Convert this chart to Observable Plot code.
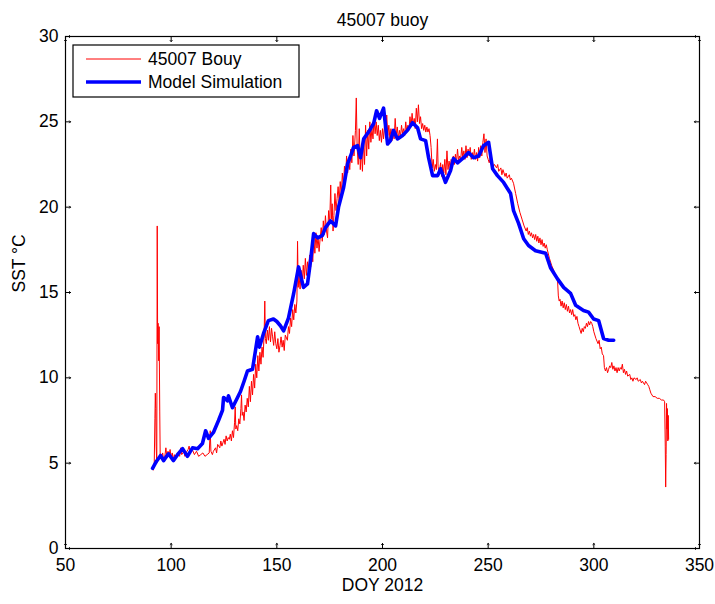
<!DOCTYPE html>
<html>
<head>
<meta charset="utf-8">
<script src="https://cdn.jsdelivr.net/npm/d3@7"></script>
<script src="https://cdn.jsdelivr.net/npm/@observablehq/plot@0.6"></script>
<style>
  html, body { margin: 0; padding: 0; background: #fff; }
  #chart { position: relative; width: 715px; height: 604px; }
</style>
</head>
<body>
<div id="chart"></div>
<script>
// ---- data ----
const titleText = "45007 buoy";
const xLabel = "DOY 2012";
const yLabel = "SST °C";
const seriesNames = ["45007 Bouy", "Model Simulation"];
const xTicks = [50, 100, 150, 200, 250, 300, 350];
const yTicks = [0, 5, 10, 15, 20, 25, 30];

// buoy observations [day of year, SST °C]
const buoy = [
[91.6,4.6],[92.0,5.0],[92.3,7.6],[92.5,9.1],[92.7,8.2],[92.9,6.0],[93.2,5.0],[93.4,18.9],[93.6,12.0],[93.8,13.2],
[94.1,11.0],[94.3,13.0],[94.6,8.0],[94.8,5.5],[95.3,5.3],[96,5.6],[96.5,5.1],[97,5.4],[97.5,5.9],[98,5.3],
[98.5,5.7],[99,5.4],[99.5,5.8],[100,5.3],[100.5,5.6],[101,5.2],[101.5,5.5],[102,5.3],[103,5.6],[104,5.4],
[104.5,5.9],[105,5.5],[106,5.7],[106.5,5.4],[107,5.6],[108,5.8],[108.5,6.0],[109,5.6],[110,5.8],[111,5.5],
[112,5.7],[113,5.4],[114,5.5],[115,5.6],[116,5.4],[117,5.5],[118,5.6],[118.5,6.9],[118.8,5.7],[119.5,5.5],
[120,5.7],[121,5.9],[121.5,5.6],[122,6.1],[123,5.9],[123.5,6.3],[124,6.0],[125,6.4],[125.5,6.1],[126,6.6],
[126.5,6.3],[127,6.5],[127.5,6.4],[128,6.7],[128.5,6.3],[129,6.9],[129.5,6.5],[130,7.4],[130.3,8.3],[130.6,7.0],
[131,7.2],[131.5,6.9],[132,7.6],[132.5,7.3],[133,8.2],[133.3,9.0],[133.6,7.8],[134,8.0],[134.5,7.5],[135,8.4],
[135.5,8.0],[136,8.8],[136.5,8.3],[137,9.5],[137.5,8.6],[138,9.8],[138.5,9.0],[139,10.2],[139.5,9.4],[140,10.8],
[140.5,10.0],[141,11.3],[141.5,10.4],[142,11.5],[142.5,10.8],[143,11.8],[143.5,11.2],[144,12.6],[144.3,14.5],[144.6,12.3],
[145,12.0],[145.5,12.8],[146,12.2],[146.5,13.0],[147,12.1],[147.5,12.9],[148,12.4],[148.5,11.9],[149,12.7],[149.5,12.0],
[150,11.7],[150.5,12.3],[151,11.5],[151.5,11.9],[152,12.4],[152.5,11.8],[153,12.2],[153.5,11.6],[154,12.5],[155,12.2],
[155.5,13.0],[156,12.6],[156.5,13.5],[157,13.0],[157.5,14.0],[158,13.4],[158.5,14.3],[159,13.8],[159.5,14.5],[159.8,18.0],
[160.1,15.3],[160.5,16.0],[161,15.2],[161.5,16.3],[162,15.5],[162.5,16.6],[163,15.8],[163.5,17.0],[164,16.0],[164.5,16.8],
[165,16.2],[165.5,17.2],[166,16.5],[166.5,17.6],[167,16.8],[167.5,18.2],[168,17.3],[168.5,18.5],[169,17.6],[169.5,18.3],
[170,17.4],[170.5,18.2],[171,18.8],[171.5,18.0],[172,19.2],[172.5,18.4],[173,19.5],[173.5,18.6],[174,18.2],[174.5,19.8],
[175,19.0],[175.5,21.3],[175.8,19.3],[176.2,20.2],[176.6,18.6],[177,19.5],[177.5,20.8],[178,19.8],[178.5,20.5],[179,21.2],
[179.5,20.3],[180,21.5],[180.5,20.7],[181,22.0],[181.5,21.2],[182,22.4],[182.5,21.6],[183,23.0],[183.5,22.0],[184,22.8],
[184.5,22.2],[185,23.4],[185.5,22.6],[186,24.2],[186.5,23.0],[187.2,24.5],[187.6,26.4],[188,23.5],[188.5,22.5],[189,24.6],
[189.5,22.2],[190,23.5],[190.5,22.1],[191,24.0],[191.5,22.5],[192,24.8],[192.5,23.0],[193,24.5],[193.5,23.4],[194,25.0],
[194.5,23.8],[195,24.6],[195.5,24.0],[196,25.2],[196.5,24.3],[197,25.0],[197.5,24.2],[198,24.8],[198.5,23.9],[199,24.5],
[199.5,23.8],[200,24.6],[200.5,24.0],[201,24.9],[201.5,24.2],[202,25.4],[202.5,24.2],[203,24.8],[203.5,24.0],[204,24.6],
[204.5,23.9],[205,24.4],[205.5,24.0],[206,25.2],[206.5,24.2],[207,24.7],[207.5,24.0],[208,24.5],[208.5,24.1],[209,24.8],
[209.5,24.3],[210,24.6],[210.5,24.2],[211,25.0],[211.5,24.4],[212,24.8],[212.5,24.5],[213,25.3],[213.5,24.7],[214,25.5],
[214.5,24.8],[215,25.2],[215.5,24.6],[216,25.8],[216.5,25.0],[217,26.0],[217.5,24.9],[218,25.3],[218.5,24.6],[219,24.9],
[219.5,24.5],[220,24.8],[220.5,24.4],[221,24.7],[221.5,24.4],[222,24.6],[222.5,24.2],[223,23.5],[223.5,22.3],[224,22.8],
[224.5,22.1],[225,22.5],[225.5,22.2],[226,24.0],[226.3,22.4],[226.8,22.0],[227.5,22.6],[228,21.8],[228.5,22.5],[229,22.0],
[229.5,22.8],[230,21.9],[230.5,23.3],[231,22.2],[231.5,22.7],[232,22.3],[232.5,22.8],[233,22.4],[233.5,23.0],[234,22.5],
[234.5,23.1],[235,22.6],[235.5,23.4],[236,22.7],[236.5,23.0],[237,22.8],[237.5,23.5],[238,22.9],[238.5,23.3],[239,22.8],
[239.5,23.6],[240,22.9],[240.5,23.4],[241,23.0],[241.5,23.5],[242,22.8],[242.5,23.2],[243,22.9],[243.5,23.4],[244,22.8],
[244.5,23.2],[245,22.7],[245.5,23.5],[246,22.9],[246.5,23.6],[247,23.0],[247.5,23.8],[248,24.3],[248.5,23.2],[249,24.0],
[249.5,23.0],[250,22.8],[250.5,22.6],[251,22.9],[251.5,22.5],[252,22.6],[252.5,22.4],[253,22.5],[254,22.3],[254.5,22.5],
[255,22.1],[256,22.3],[256.5,21.9],[257,22.2],[258,21.8],[258.5,22.0],[259,21.7],[260,21.9],[260.5,21.6],[261,21.7],
[262,21.4],[263,20.8],[264,20.2],[265,19.7],[266,19.3],[267,18.9],[268,18.6],[268.5,18.8],[269,18.4],[269.5,18.6],
[270,18.3],[270.5,18.5],[271,18.2],[271.5,18.4],[272,18.1],[272.5,18.4],[273,18.0],[273.5,18.3],[274,17.9],[274.5,18.2],
[275,17.8],[275.5,18.1],[276,17.7],[276.5,17.9],[277,17.6],[277.5,17.8],[278,17.5],[279,17.0],[280,16.6],[281,16.3],
[282,16.0],[282.8,15.8],[283.2,14.8],[283.6,14.5],[284,14.6],[284.5,14.2],[285,14.5],[285.5,14.1],[286,14.4],[286.5,14.0],
[287,14.3],[287.5,13.9],[288,14.2],[288.5,13.8],[289,14.0],[289.5,13.7],[290,14.0],[290.5,13.6],[291,13.7],[291.5,13.4],
[292,13.6],[292.5,13.2],[293,13.0],[293.5,12.8],[294,12.6],[294.5,12.9],[295,12.7],[295.5,13.0],[296,12.9],[296.5,13.2],
[297,13.0],[297.5,13.3],[298,13.1],[298.5,13.3],[299,13.2],[299.5,13.0],[300,12.7],[301,12.3],[302,12.0],[302.5,12.2],
[303,11.7],[303.5,11.8],[304,11.4],[304.6,11.3],[305,10.6],[305.5,10.4],[306,10.6],[306.5,10.3],[307,10.5],[307.5,10.7],
[308,10.6],[308.5,10.9],[309,10.5],[309.5,10.7],[310,10.4],[310.5,10.6],[311,10.3],[311.5,10.6],[312,10.4],[312.5,10.6],
[313,10.5],[313.5,10.8],[314,10.3],[314.5,10.5],[315,10.2],[315.5,10.4],[316,10.1],[317,10.2],[317.5,9.9],[318,10.0],
[318.5,9.8],[319,10.0],[320,9.9],[320.5,10.0],[321,9.8],[322,9.9],[322.5,9.7],[323,9.8],[324,9.6],[324.5,9.8],
[325,9.7],[325.5,9.6],[326,9.5],[326.5,9.3],[327,9.1],[328,8.9],[329,8.9],[330,8.8],[331,8.8],[332,8.7],
[333,8.7],[333.5,8.6],[333.8,6.0],[334.0,3.6],[334.2,5.5],[334.4,8.5],[334.6,7.0],[334.8,8.2],[335.0,6.3],[335.2,7.8],
[335.4,6.4]
];

// model simulation [day of year, SST °C]
const model = [
[91.2,4.7],[93,5.1],[95,5.45],[96.4,5.15],[98.7,5.55],[101.1,5.15],[103,5.5],[105.4,5.85],[107.7,5.4],[110.1,5.9],
[112.5,5.85],[114.8,6.15],[116.3,6.9],[117.7,6.45],[120,6.8],[122.4,7.5],[124.3,8.1],[124.8,8.85],[126.7,8.65],[127.1,8.95],
[129,8.25],[131.4,8.85],[132.8,9.2],[134.5,9.8],[136.1,10.4],[138.5,10.5],[139.9,11.6],[140.9,12.4],[141.8,11.8],[143.7,12.6],
[146,13.35],[148.4,13.45],[150,13.3],[151.7,13.05],[153.2,12.75],[155.5,13.5],[157.9,14.9],[160.3,16.5],[162.6,15.3],[164.5,15.5],
[166,16.9],[167.4,18.45],[169.3,18.2],[171.6,18.35],[173,18.8],[175.4,19.2],[177.8,18.9],[179.2,20],[181.6,21.15],[183.5,22.55],
[184.9,23.0],[186.3,23.5],[188.2,23.6],[189.6,22.9],[191.1,24],[193.4,24.4],[195.8,24.9],[197.2,25.65],[198.6,25.2],[200.5,25.8],
[202.4,23.7],[203.8,23.9],[205.2,24.5],[207.1,24],[209.5,24.2],[211.8,24.5],[214.2,24.95],[216.6,24.65],[218,24],[220.4,23.9],
[221.8,22.9],[223.7,21.85],[226.1,21.85],[227.5,22.25],[229.8,21.45],[232.2,22.15],[233.6,22.85],[235.5,22.6],[238.4,22.9],[240.7,23.2],
[243.1,22.9],[245.5,23.0],[247.8,23.6],[250.2,23.8],[252.1,22.25],[254.4,21.85],[257.3,21.45],[260.6,20.8],[262,19.8],[264.4,19.05],
[266.8,18.15],[269.1,17.75],[272.4,17.45],[277.2,17.3],[279.5,16.45],[282.8,15.8],[285.7,15.3],[289,14.95],[291.4,14.25],[295.1,13.95],
[297.5,13.85],[299.9,13.45],[302.3,13.35],[304.6,12.3],[307,12.2],[309.4,12.2]
];

const seriesColors = ["#ff0000", "#0000ff"];

const font = "'Liberation Sans', Arial, Helvetica, sans-serif";
const xMin = xTicks[0], xMax = xTicks[xTicks.length - 1];
const yMin = yTicks[0], yMax = yTicks[yTicks.length - 1];

const chart = Plot.plot({
  width: 715,
  height: 604,
  marginLeft: 65,
  marginRight: 16,
  marginTop: 36,
  marginBottom: 56,
  style: { fontFamily: font, fontSize: "17px", background: "#fff", color: "#000", overflow: "visible" },
  x: { domain: [xMin, xMax], label: null },
  y: { domain: [yMin, yMax], label: null },
  marks: [
    Plot.line(buoy, { x: d => d[0], y: d => d[1], stroke: seriesColors[0], strokeWidth: 1 }),
    Plot.line(model, { x: d => d[0], y: d => d[1], stroke: seriesColors[1], strokeWidth: 3.6, strokeLinejoin: "round" }),
    Plot.frame({ stroke: "#000", strokeWidth: 1.2 }),
    // tick labels
    Plot.axisX(xTicks, { anchor: "bottom", tickSize: 0, tickPadding: 10, label: null, fontSize: 17.5 }),
    Plot.axisY(yTicks, { anchor: "left", tickSize: 0, tickPadding: 7, label: null, fontSize: 17.5 }),
    // inward ticks on all four sides (MATLAB style)
    Plot.vector(xTicks, { x: d => d, y: yMin, length: 5, rotate: 0, anchor: "start", stroke: "#000", strokeWidth: 1 }),
    Plot.vector(xTicks, { x: d => d, y: yMax, length: 5, rotate: 180, anchor: "start", stroke: "#000", strokeWidth: 1 }),
    Plot.vector(yTicks, { x: xMin, y: d => d, length: 5, rotate: 90, anchor: "start", stroke: "#000", strokeWidth: 1 }),
    Plot.vector(yTicks, { x: xMax, y: d => d, length: 5, rotate: -90, anchor: "start", stroke: "#000", strokeWidth: 1 }),
    Plot.text([titleText], { frameAnchor: "top", dy: -23, fontSize: 17.5 }),
    Plot.text([xLabel], { frameAnchor: "bottom", dy: 42, fontSize: 17.5 }),
    Plot.text([yLabel], { frameAnchor: "left", dx: -46, rotate: -90, fontSize: 17.5 })
  ]
});

document.getElementById("chart").appendChild(chart);

// legend (MATLAB-style box in the upper-left corner of the axes)
const svg = d3.select(chart);
const lg = svg.append("g").attr("transform", "translate(73,45)")
  .style("font-family", font).style("font-size", "17.5px").attr("text-anchor", "start");
lg.append("rect").attr("width", 226).attr("height", 52).attr("fill", "#fff").attr("stroke", "#000").attr("stroke-width", 1.2);
seriesNames.forEach((name, i) => {
  const yy = 14 + i * 23;
  lg.append("line").attr("x1", 13).attr("x2", 68).attr("y1", yy).attr("y2", yy)
    .attr("stroke", seriesColors[i]).attr("stroke-width", i === 0 ? 1 : 3.6);
  lg.append("text").attr("x", 75).attr("y", yy).attr("dy", "0.35em")
    .attr("text-anchor", "start").attr("fill", "#000").text(name);
});
</script>
</body>
</html>
